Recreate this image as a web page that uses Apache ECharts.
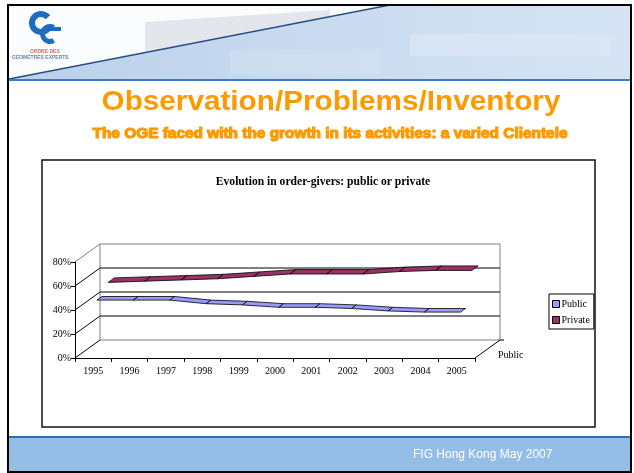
<!DOCTYPE html>
<html>
<head>
<meta charset="utf-8">
<script src="https://cdn.jsdelivr.net/npm/echarts@6/dist/echarts.min.js"></script>
<style>
html,body{margin:0;padding:0;background:#fff;}
#c{width:634px;height:473px;}
</style>
</head>
<body>
<div id="c"></div>
<script>
// ---- data ----
const years = ['1995','1996','1997','1998','1999','2000','2001','2002','2003','2004','2005'];
const publicShare  = [46, 46, 46, 43, 42, 40, 40, 39, 37, 36, 36];
const privateShare = [54, 55, 56, 57, 59, 61, 61, 61, 63, 64, 64];
const yTicks = [0, 20, 40, 60, 80];
const seriesNames = ['Public', 'Private'];
const zLabels = ['Public'];

// ---- 3D look (pixel depth offsets) ----
const DX = 25, DY = -18;
const SERIF = '"Liberation Serif","Times New Roman",serif';
const SANS = '"Liberation Sans",Arial,sans-serif';

function segData(vals) {
  const out = [];
  for (let i = 0; i < vals.length - 1; i++) out.push([i, vals[i], vals[i + 1]]);
  return out;
}

function ribbon(d1, d2) {
  return function (params, api) {
    const i = api.value(0);
    const a = api.coord([i, api.value(1)]);
    const b = api.coord([i + 1, api.value(2)]);
    const pts = [
      [a[0] + DX * d1, a[1] + DY * d1],
      [b[0] + DX * d1, b[1] + DY * d1],
      [b[0] + DX * d2, b[1] + DY * d2],
      [a[0] + DX * d2, a[1] + DY * d2]
    ];
    return {
      type: 'polygon',
      shape: { points: pts },
      style: { fill: api.visual('color'), stroke: '#000', lineWidth: 0.8 }
    };
  };
}

const yMax = yTicks[yTicks.length - 1];
function frame(params, api) {
  const cs = params.coordSys;
  const v = api.value(1);
  const y = api.coord([0, v])[1];
  const x0 = cs.x, x1 = cs.x + cs.width;
  const edge = (v === 0 || v === yMax);
  const children = [
    { type: 'line', shape: { x1: x0, y1: y, x2: x0 + DX, y2: y + DY },
      style: { stroke: v === yMax ? '#808080' : '#000', lineWidth: 1 } },
    { type: 'line', shape: { x1: x0 + DX, y1: y + DY, x2: x1 + DX, y2: y + DY },
      style: { stroke: edge ? '#808080' : '#000', lineWidth: 1 } }
  ];
  if (params.dataIndex === 0) {
    const yb = cs.y + cs.height, yt = cs.y;
    children.push(
      { type: 'line', shape: { x1: x0 + DX, y1: yt + DY, x2: x0 + DX, y2: yb + DY }, style: { stroke: '#808080', lineWidth: 1 } },
      { type: 'line', shape: { x1: x1 + DX, y1: yt + DY, x2: x1 + DX, y2: yb + DY }, style: { stroke: '#808080', lineWidth: 1 } },
      { type: 'line', shape: { x1: x1, y1: yb, x2: x1 + DX, y2: yb + DY }, style: { stroke: '#000', lineWidth: 1 } },
      { type: 'line', shape: { x1: x1 + DX, y1: yb + DY, x2: x1 + DX + 4, y2: yb + DY }, style: { stroke: '#000', lineWidth: 1 } },
      { type: 'text', x: x1 + DX - 2, y: yb - 3,
        style: { text: zLabels[0], fill: '#000', font: '10px ' + SERIF, textAlign: 'left', textVerticalAlign: 'middle' } }
    );
  }
  return { type: 'group', children: children };
}

const chart = echarts.init(document.getElementById('c'), null, { renderer: 'canvas' });

const option = {
  animation: false,
  backgroundColor: '#fff',
  title: {
    text: 'Evolution in order-givers: public or private',
    left: 318, top: 171, textAlign: 'center',
    textStyle: { fontFamily: SERIF, fontSize: 11.6, fontWeight: 'bold', color: '#000' }
  },
  legend: {
    data: seriesNames,
    orient: 'vertical',
    left: 549, top: 294,
    padding: [5, 4, 4, 3],
    itemGap: 6,
    itemWidth: 7, itemHeight: 7,
    icon: 'rect',
    borderColor: '#000', borderWidth: 1,
    itemStyle: { borderColor: '#000', borderWidth: 1 },
    textStyle: { fontFamily: SERIF, fontSize: 10, color: '#000', padding: [0, 0, 0, -3] }
  },
  grid: { left: 75, top: 262, width: 400, height: 96, containLabel: false },
  xAxis: {
    type: 'category',
    data: years,
    boundaryGap: true,
    axisLine: { lineStyle: { color: '#000', width: 1 } },
    axisTick: { show: true, length: 4, lineStyle: { color: '#000' } },
    axisLabel: { fontFamily: SERIF, fontSize: 10, color: '#000', margin: 8 },
    splitLine: { show: false }
  },
  yAxis: {
    type: 'value',
    min: 0, max: yMax, interval: 20,
    axisLine: { show: true, lineStyle: { color: '#000', width: 1 } },
    axisTick: { show: true, length: 4, lineStyle: { color: '#000' } },
    axisLabel: { fontFamily: SERIF, fontSize: 10, color: '#000', margin: 4, formatter: '{value}%' },
    splitLine: { show: false }
  },
  series: [
    {
      name: 'frame', type: 'custom', renderItem: frame, silent: true, clip: false, z: 1,
      encode: { x: 0, y: 1 },
      data: yTicks.map(v => [0, v])
    },
    {
      name: 'Private', type: 'custom', renderItem: ribbon(0.6, 0.85), clip: false, z: 3,
      itemStyle: { color: '#993366' },
      encode: { x: 0, y: 1 },
      data: segData(privateShare)
    },
    {
      name: 'Public', type: 'custom', renderItem: ribbon(0.15, 0.35), clip: false, z: 4,
      itemStyle: { color: '#9999FF' },
      encode: { x: 0, y: 1 },
      data: segData(publicShare)
    }
  ],
  graphic: [
    // header background
    { type: 'rect', z: -10, shape: { x: 9, y: 6, width: 621, height: 74 },
      style: { fill: new echarts.graphic.LinearGradient(0, 0, 1, 0, [
        { offset: 0, color: '#B9CFEA' }, { offset: 0.5, color: '#CADBF0' }, { offset: 1, color: '#D5E3F3' }]) } },
    { type: 'rect', z: -9, shape: { x: 410, y: 34, width: 200, height: 22 }, style: { fill: '#E0EAF6', opacity: 0.6 } },
    { type: 'rect', z: -9, shape: { x: 230, y: 50, width: 150, height: 24 }, style: { fill: '#D4E1F1', opacity: 0.5 } },
    { type: 'polygon', z: -8, shape: { points: [[9, 6], [388, 6], [9, 79]] }, style: { fill: '#FBFCFE' } },
    { type: 'polygon', z: -7, shape: { points: [[145, 52], [145, 22], [330, 10], [330, 16]] }, style: { fill: '#DDE1E8', opacity: 0.8 } },
    { type: 'line', z: -6, shape: { x1: 9, y1: 79, x2: 390, y2: 5 }, style: { stroke: '#234F86', lineWidth: 1.5 } },
    { type: 'line', z: -6, shape: { x1: 9, y1: 80, x2: 630, y2: 80 }, style: { stroke: '#3E7BC2', lineWidth: 2 } },
    // logo
    { type: 'sector', z: -5, shape: { cx: 41, cy: 23, r: 12, r0: 6, startAngle: Math.PI * 40 / 180, endAngle: Math.PI * 320 / 180, clockwise: true },
      style: { fill: '#1E6CC0' } },
    { type: 'sector', z: -5, shape: { cx: 50, cy: 34, r: 10, r0: 5, startAngle: Math.PI * 60 / 180, endAngle: Math.PI * 300 / 180, clockwise: true },
      style: { fill: '#1E6CC0' } },
    { type: 'rect', z: -5, shape: { x: 44, y: 27, width: 17, height: 4 }, style: { fill: '#1E6CC0' } },
    { type: 'text', z: -5, x: 30, y: 49, style: { text: 'ORDRE DES', font: 'bold 5px ' + SANS, fill: '#D86A5A' } },
    { type: 'text', z: -5, x: 12, y: 55, style: { text: 'GEOMETRES EXPERTS', font: 'bold 5px ' + SANS, fill: '#6E86A8' } },
    // titles
    { type: 'text', x: 331, y: 103, scaleX: 1.1,
      style: { text: 'Observation/Problems/Inventory', font: 'bold 27px ' + SANS, fill: '#FF9900',
        textAlign: 'center', textVerticalAlign: 'middle' } },
    { type: 'text', x: 330, y: 134.5, scaleX: 1.1,
      style: { text: 'The OGE faced with the growth in its activities: a varied Clientele', font: 'bold 14px ' + SANS,
        fill: '#FF9900', stroke: '#FF9900', lineWidth: 1.1, textAlign: 'center', textVerticalAlign: 'middle' } },
    // chart box
    { type: 'rect', z: -4, shape: { x: 42, y: 160, width: 553, height: 267 }, style: { fill: 'none', stroke: '#111', lineWidth: 1.5 } },
    // footer
    { type: 'rect', z: -4, shape: { x: 9, y: 437, width: 621, height: 34 }, style: { fill: '#95BEE6' } },
    { type: 'line', z: -3, shape: { x1: 9, y1: 437, x2: 630, y2: 437 }, style: { stroke: '#2E6DB8', lineWidth: 2 } },
    { type: 'text', x: 413, y: 455,
      style: { text: 'FIG Hong Kong May 2007', font: '12px ' + SANS, fill: '#FFFFFF', textAlign: 'left', textVerticalAlign: 'middle' } },
    // slide frame
    { type: 'rect', z: 10, shape: { x: 8, y: 5, width: 623, height: 467 }, style: { fill: 'none', stroke: '#000', lineWidth: 2 } }
  ]
};
chart.setOption(option);
</script>
</body>
</html>
